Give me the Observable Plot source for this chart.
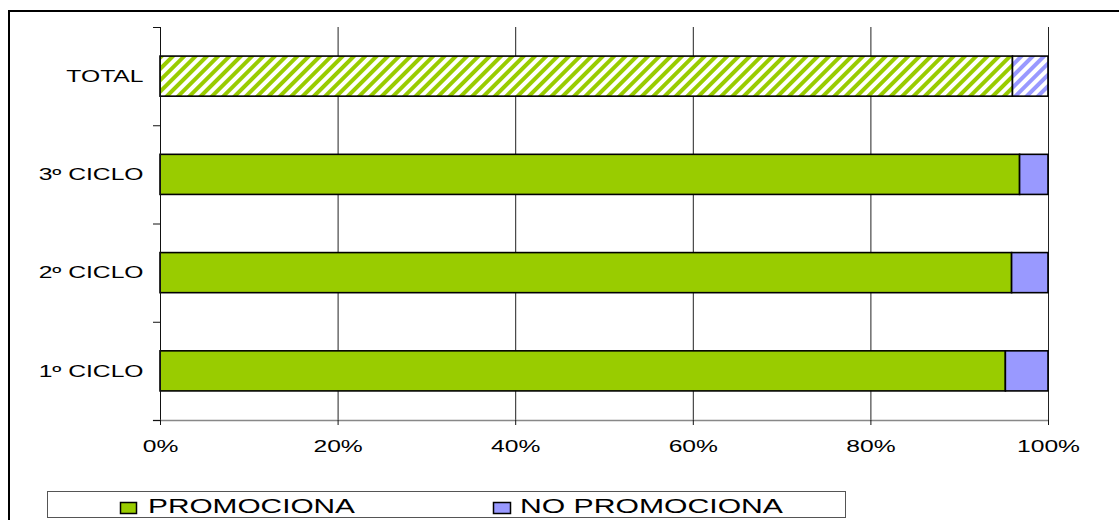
<!DOCTYPE html>
<html><head><meta charset="utf-8">
<script src="https://cdn.jsdelivr.net/npm/d3@7"></script>
<script src="https://cdn.jsdelivr.net/npm/@observablehq/plot@0.6"></script>
<style>
html,body{margin:0;padding:0;background:#fff;overflow:hidden;width:1119px;height:520px;}
#frame{position:absolute;left:8px;top:10px;width:2000px;height:2000px;border:2px solid #000;box-sizing:border-box;}
#chart{position:absolute;left:0;top:0;}
#legend{position:absolute;left:0;top:0;pointer-events:none;}
</style></head><body>
<div id="frame"></div>
<div id="chart"></div>
<svg id="legend" width="1119" height="520"></svg>
<script>
// ---- data ----
const categories = ["TOTAL", "3º CICLO", "2º CICLO", "1º CICLO"];
const series = ["PROMOCIONA", "NO PROMOCIONA"];
const promociona = [96.0, 96.8, 95.9, 95.2];
const noPromociona = [4.0, 3.2, 4.1, 4.8];
const xTicks = [0, 20, 40, 60, 80, 100];

// ---- styles ----
const GREEN = "#99CC00", BLUE = "#9999FF";
const FONT = "'Liberation Sans', Arial, sans-serif";
const HALF = 0.204; // half bar thickness in band units

const n = categories.length;
const rows = [];
categories.forEach((c, i) => {
  const center = n - i - 0.5;
  const vals = [promociona[i], noPromociona[i]];
  let acc = 0;
  series.forEach((s, j) => {
    const hatched = c === "TOTAL";
    rows.push({
      cat: c, series: s, x1: acc, x2: acc + vals[j],
      y1: center - HALF, y2: center + HALF,
      fill: hatched ? (j === 0 ? "url(#hatchG)" : "url(#hatchB)") : (j === 0 ? GREEN : BLUE)
    });
    acc += vals[j];
  });
});
const centers = categories.map((c, i) => n - i - 0.5);

const svg = Plot.plot({
  width: 1119, height: 470,
  marginTop: 27, marginBottom: 50, marginLeft: 160, marginRight: 71,
  style: {fontFamily: FONT, fontSize: "16px", color: "#000", background: "transparent"},
  x: {domain: [0, 100]},
  y: {domain: [0, n]},
  color: {type: "identity"},
  marks: [
    Plot.ruleX(xTicks.slice(1), {y1: 0, y2: n, stroke: "#222", strokeWidth: 1}),
    Plot.rect(rows, {x1: "x1", x2: "x2", y1: "y1", y2: "y2", fill: d => d.fill, stroke: "#000", strokeWidth: 1.6}),
    Plot.ruleX([0], {y1: 0, y2: n, stroke: "#111", strokeWidth: 1}),
    Plot.ruleY([0], {x1: -0.8, x2: 100, stroke: "#888", strokeWidth: 1.5}),
    Plot.axisX({ticks: xTicks, tickSize: 5, tickPadding: 15, tickFormat: d => d + "%", label: null, fontSize: 16, stroke: "#111"}),
    Plot.axisY({ticks: d3.range(n + 1), tickSize: 7, tickFormat: () => "", label: null, stroke: "#111"}),
    Plot.axisY({ticks: centers, tickSize: 0, tickPadding: 17, tickFormat: d => categories[n - 0.5 - d], label: null, fontSize: 16})
  ]
});
document.getElementById("chart").appendChild(svg);

// hatch patterns for TOTAL row
const defs = d3.select(svg).insert("defs", ":first-child");
[["hatchG", GREEN], ["hatchB", BLUE]].forEach(([id, col]) => {
  const p = defs.append("pattern").attr("id", id).attr("patternUnits", "userSpaceOnUse")
    .attr("width", 8).attr("height", 8).attr("patternTransform", "rotate(45)");
  p.append("rect").attr("width", 8).attr("height", 8).attr("fill", "#fff");
  p.append("rect").attr("width", 4).attr("height", 8).attr("fill", col);
});

// widen text like the reference
svg.querySelectorAll("text").forEach(t => {
  const w = t.getComputedTextLength();
  if (w > 0) { t.setAttribute("textLength", w * 1.54); t.setAttribute("lengthAdjust", "spacingAndGlyphs"); }
});

// legend
const lg = d3.select("#legend");
lg.append("rect").attr("x", 47.5).attr("y", 491.5).attr("width", 798).attr("height", 26)
  .attr("fill", "#fff").attr("stroke", "#555").attr("stroke-width", 1);
const legendItems = [
  {name: series[0], color: GREEN, sx: 120.5, sw: 16, tx: 148, tl: 207},
  {name: series[1], color: BLUE, sx: 493.5, sw: 17, tx: 520, tl: 263}
];
legendItems.forEach(it => {
  lg.append("rect").attr("x", it.sx).attr("y", 502.5).attr("width", it.sw).attr("height", 11)
    .attr("fill", it.color).attr("stroke", "#000").attr("stroke-width", 1.5);
  lg.append("text").attr("x", it.tx).attr("y", 513).attr("font-family", FONT).attr("font-size", 21)
    .attr("fill", "#000").attr("textLength", it.tl).attr("lengthAdjust", "spacingAndGlyphs").text(it.name);
});
</script>
</body></html>
